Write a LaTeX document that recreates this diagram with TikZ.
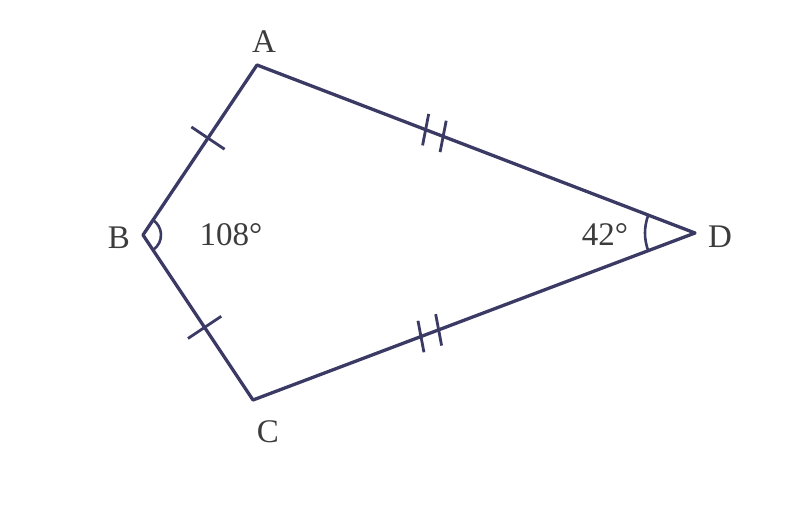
\documentclass[tikz,border=0pt]{standalone}
\usepackage{fontspec}
\setmainfont{Liberation Serif}
\usetikzlibrary{calc,angles}
\definecolor{edge}{RGB}{58,58,100}
\definecolor{txt}{RGB}{60,60,60}
\begin{document}
\begin{tikzpicture}[x=1pt,y=-1pt,
  side/.style={draw=edge,line width=3.3pt,line join=round},
  tick/.style={draw=edge,line width=2.8pt},
  lbl/.style={text=txt,font=\fontsize{33}{36}\selectfont,inner sep=0pt}]
\useasboundingbox (0,0) rectangle (807,506);
\coordinate (A) at (257,65);
\coordinate (B) at (143,235);
\coordinate (C) at (253,400);
\coordinate (D) at (695,233);
\draw[side] (A) -- (B) -- (C) -- (D) -- cycle;
% angle marks
\pic[draw=edge,line width=2.6pt,angle radius=18pt] {angle = C--B--A};
\pic[draw=edge,line width=2.6pt,angle radius=50pt] {angle = A--D--C};
% single ticks
\coordinate (m1) at ($(A)!0.43!(B)$);
\draw[tick] ($(m1)!20pt!90:(B)$) -- ($(m1)!20pt!-90:(B)$);
\coordinate (m2) at ($(B)!0.56!(C)$);
\draw[tick] ($(m2)!20pt!90:(C)$) -- ($(m2)!20pt!-90:(C)$);
% double ticks
\coordinate (m3a) at ($(A)!0.385!(D)$);
\coordinate (m3b) at ($(A)!0.425!(D)$);
\draw[tick] ($(m3a)!16pt!100:(D)$) -- ($(m3a)!16pt!-80:(D)$);
\draw[tick] ($(m3b)!16pt!100:(D)$) -- ($(m3b)!16pt!-80:(D)$);
\coordinate (m4a) at ($(C)!0.38!(D)$);
\coordinate (m4b) at ($(C)!0.42!(D)$);
\draw[tick] ($(m4a)!16pt!80:(D)$) -- ($(m4a)!16pt!-100:(D)$);
\draw[tick] ($(m4b)!16pt!80:(D)$) -- ($(m4b)!16pt!-100:(D)$);
% labels
\node[lbl] (lA) at (264,42) {A};
\node[lbl] (lB) at (119,238) {B};
\node[lbl] (lC) at (268,432) {C};
\node[lbl] (lD) at (720,237) {D};
\node[lbl] (l108) at (231,235) {108\textdegree};
\node[lbl] (l42) at (605,235) {42\textdegree};
\end{tikzpicture}
\end{document}
